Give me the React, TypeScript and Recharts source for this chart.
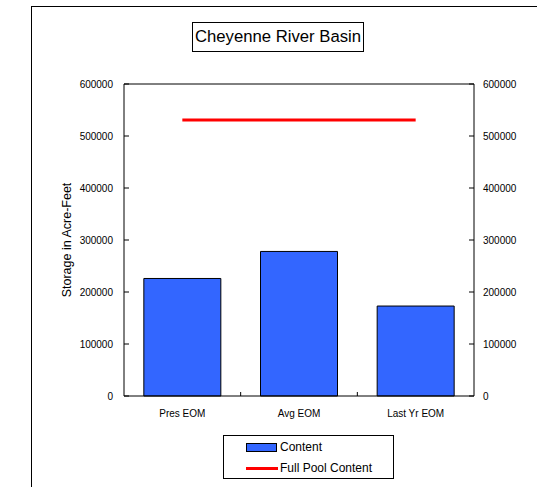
import React from "react";
import { ComposedChart, Bar, Line, XAxis, YAxis } from "recharts";

const categories = ["Pres EOM", "Avg EOM", "Last Yr EOM"];
const contentValues = [226000, 278000, 173000];
const fullPoolValues = [531000, 531000, 531000];
const yTicks = [0, 100000, 200000, 300000, 400000, 500000, 600000];

const data = categories.map((name, i) => ({
  name,
  content: contentValues[i],
  full: fullPoolValues[i],
}));

const FONT = "Arial, 'Liberation Sans', Helvetica, sans-serif";

const XTick = (props: any) => {
  const { x, y, payload, index, visibleTicksCount, width } = props;
  const half =
    payload && typeof payload.offset === "number"
      ? payload.offset
      : width / ((visibleTicksCount || 3) * 2);
  const bx = x + half;
  return (
    <g>
      <text
        x={x}
        y={y + 17}
        dy="0.35em"
        textAnchor="middle"
        fontSize={10}
        fill="#000"
        fontFamily={FONT}
      >
        {payload.value}
      </text>
      {index < categories.length - 1 ? (
        <line x1={bx} x2={bx} y1={y} y2={y - 4} stroke="#000" strokeWidth={1} />
      ) : null}
    </g>
  );
};

export default function App() {
  return (
    <div
      style={{
        position: "absolute",
        left: 0,
        top: 0,
        width: 537,
        height: 487,
        background: "#fff",
        fontFamily: FONT,
        overflow: "hidden",
      }}
    >
      <div
        style={{
          position: "absolute",
          left: 31,
          top: 6,
          width: 520,
          height: 500,
          borderTop: "1px solid #000",
          borderLeft: "1px solid #000",
        }}
      />
      <div style={{ position: "absolute", left: 0, top: 0 }}>
        <ComposedChart
          width={537}
          height={487}
          data={data}
          margin={{ top: 83, right: 3, bottom: 61, left: 10 }}
          barCategoryGap="17%"
        >
          <XAxis
            dataKey="name"
            xAxisId="bottom"
            height={30}
            tickSize={0}
            tickMargin={0}
            tickLine={false}
            axisLine={{ stroke: "#000", strokeWidth: 1 }}
            tick={<XTick />}
            interval={0}
          />
          <XAxis
            dataKey="name"
            xAxisId="top"
            orientation="top"
            height={1}
            tick={false}
            tickLine={false}
            axisLine={{ stroke: "#000", strokeWidth: 1 }}
          />
          <YAxis
            yAxisId="left"
            orientation="left"
            width={114}
            domain={[0, 600000]}
            ticks={yTicks}
            interval={0}
            tickSize={-5}
            tickMargin={16}
            axisLine={{ stroke: "#000", strokeWidth: 1 }}
            tickLine={{ stroke: "#000", strokeWidth: 1 }}
            tick={{ fontSize: 10, fill: "#000", fontFamily: FONT }}
            label={{
              value: "Storage in Acre-Feet",
              angle: -90,
              position: "center",
              fontSize: 12.5,
              fill: "#000",
              fontFamily: FONT,
            }}
          />
          <YAxis
            yAxisId="right"
            orientation="right"
            width={60}
            domain={[0, 600000]}
            ticks={yTicks}
            interval={0}
            tickSize={-5}
            tickMargin={14}
            axisLine={{ stroke: "#000", strokeWidth: 1 }}
            tickLine={{ stroke: "#000", strokeWidth: 1 }}
            tick={{ fontSize: 10, fill: "#000", fontFamily: FONT }}
          />
          <Bar
            dataKey="content"
            xAxisId="bottom"
            yAxisId="left"
            fill="#3366FF"
            stroke="#000"
            strokeWidth={1}
            isAnimationActive={false}
          />
          <Line
            dataKey="full"
            xAxisId="top"
            yAxisId="right"
            type="linear"
            stroke="#FF0000"
            strokeWidth={3}
            dot={false}
            activeDot={false}
            isAnimationActive={false}
          />
        </ComposedChart>
      </div>
      <div
        style={{
          position: "absolute",
          left: 192,
          top: 22,
          width: 170,
          height: 28,
          border: "1px solid #000",
          fontSize: 16.7,
          lineHeight: "28px",
          textAlign: "center",
          color: "#000",
          whiteSpace: "nowrap",
        }}
      >
        Cheyenne River Basin
      </div>
      <div
        style={{
          position: "absolute",
          left: 223,
          top: 435,
          width: 169,
          height: 42,
          border: "1px solid #000",
          background: "#fff",
        }}
      >
        <div
          style={{
            position: "absolute",
            left: 22,
            top: 7,
            width: 29,
            height: 7,
            background: "#3366FF",
            border: "1px solid #000",
          }}
        />
        <div
          style={{
            position: "absolute",
            left: 56,
            top: 4,
            fontSize: 12,
            lineHeight: "14px",
            color: "#000",
            whiteSpace: "nowrap",
          }}
        >
          Content
        </div>
        <div
          style={{
            position: "absolute",
            left: 22,
            top: 30.5,
            width: 32,
            height: 3,
            background: "#FF0000",
          }}
        />
        <div
          style={{
            position: "absolute",
            left: 56,
            top: 25,
            fontSize: 12,
            lineHeight: "14px",
            color: "#000",
            whiteSpace: "nowrap",
          }}
        >
          Full Pool Content
        </div>
      </div>
    </div>
  );
}
